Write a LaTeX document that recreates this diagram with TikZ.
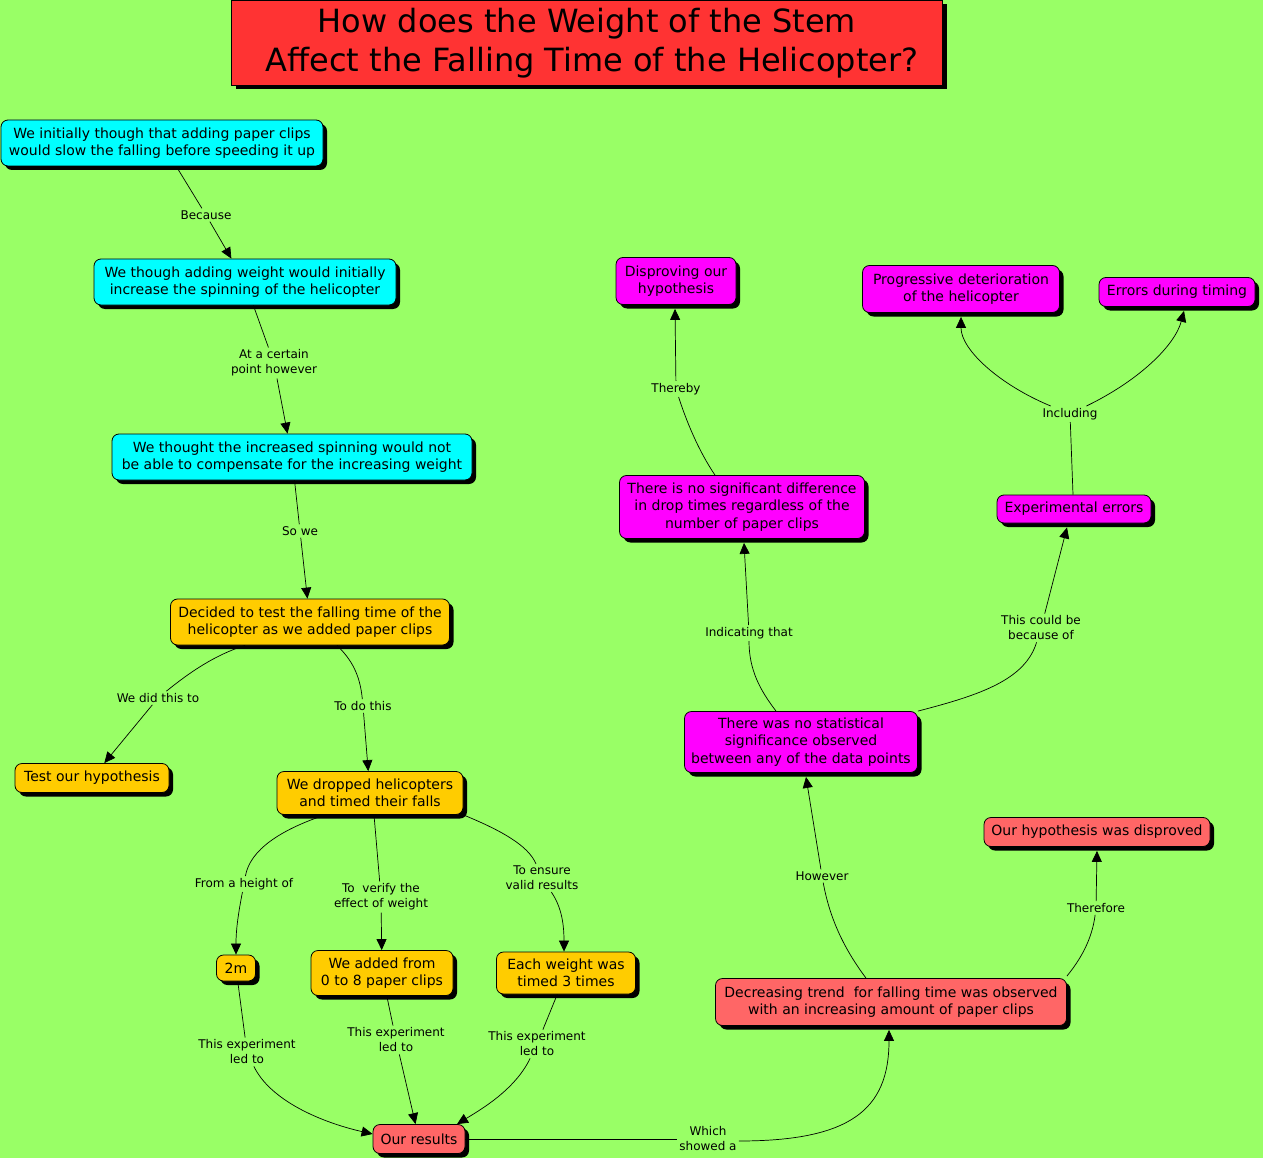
\documentclass[tikz,border=0pt]{standalone}
\usepackage{fontspec}
\setmainfont{DejaVu Sans}
\usetikzlibrary{shadows,arrows.meta}
\definecolor{bg}{HTML}{99FF66}
\definecolor{cy}{HTML}{00FFFF}
\definecolor{org}{HTML}{FFCC00}
\definecolor{sal}{HTML}{FF6666}
\definecolor{mag}{HTML}{FF00FF}
\definecolor{ttl}{HTML}{FF3333}
\begin{document}
\begin{tikzpicture}[x=1pt,y=-1pt,
  hardshadow/.style={drop shadow={shadow xshift=4pt,shadow yshift=-4pt,fill=black,opacity=1}},
  box/.style={draw=black,line width=0.8pt,rounded corners=7pt,align=center,inner sep=2pt,
    font=\fontsize{14}{17.5}\selectfont,hardshadow},
  cbox/.style={box,fill=cy},
  obox/.style={box,fill=org},
  sbox/.style={box,fill=sal},
  mbox/.style={box,fill=mag},
  lab/.style={font=\fontsize{12}{15}\selectfont,align=center,inner sep=2pt},
  conn/.style={line width=0.7pt},
  arr/.style={conn,-{Triangle[length=11pt,width=10pt]}}]
\fill[bg] (0,0) rectangle (1263,1158);
\useasboundingbox (0,0) rectangle (1263,1158);

% title
\node[draw=black,fill=ttl,line width=0.8pt,minimum width=711pt,minimum height=85pt,
  font=\fontsize{32}{39}\selectfont,align=center,hardshadow] (title) at (587,43)
  {How does the Weight of the Stem\\\ Affect the Falling Time of the Helicopter?};

% nodes
\node[cbox,minimum width=322pt,minimum height=46pt] (n1) at (162,143) {We initially though that adding paper clips\\would slow the falling before speeding it up};
\node[cbox,minimum width=302pt,minimum height=46pt] (n2) at (245,282) {We though adding weight would initially\\increase the spinning of the helicopter};
\node[cbox,minimum width=360pt,minimum height=46pt] (n3) at (292,457) {We thought the increased spinning would not\\be able to compensate for the increasing weight};
\node[obox,minimum width=279pt,minimum height=46pt] (n4) at (310,622) {Decided to test the falling time of the\\helicopter as we added paper clips};
\node[obox,minimum width=154pt,minimum height=29pt] (n5) at (92,778) {Test our hypothesis};
\node[obox,minimum width=186pt,minimum height=43pt] (n6) at (370,793) {We dropped helicopters\\and timed their falls};
\node[obox,minimum width=39pt,minimum height=26pt] (n7) at (236,968) {2m};
\node[obox,minimum width=142pt,minimum height=45pt] (n8) at (382,973) {We added from\\0 to 8 paper clips};
\node[obox,minimum width=139pt,minimum height=42pt] (n9) at (566,973) {Each weight was\\timed 3 times};
\node[sbox,minimum width=92pt,minimum height=29pt] (n10) at (419,1139) {Our results};
\node[sbox,minimum width=351pt,minimum height=47pt] (n11) at (891,1002) {Decreasing trend\ \ for falling time was observed\\with an increasing amount of paper clips};
\node[sbox,minimum width=226pt,minimum height=29pt] (n12) at (1097,832) {Our hypothesis was disproved};
\node[mbox,minimum width=233pt,minimum height=61pt] (n13) at (801,742) {There was no statistical\\significance observed\\between any of the data points};
\node[mbox,minimum width=245pt,minimum height=63pt] (n14) at (742,507) {There is no significant difference\\in drop times regardless of the\\number of paper clips};
\node[mbox,minimum width=120pt,minimum height=47pt] (n15) at (676,281) {Disproving our\\hypothesis};
\node[mbox,minimum width=154pt,minimum height=28pt] (n16) at (1074,509) {Experimental errors};
\node[mbox,minimum width=197pt,minimum height=47pt] (n17) at (961,289) {Progressive deterioration\\of the helicopter};
\node[mbox,minimum width=156pt,minimum height=29pt] (n18) at (1177,292) {Errors during timing};

% labels
\node[lab] (L1) at (206,215) {Because};
\node[lab] (L2) at (274,363) {At a certain\\point however};
\node[lab] (L3) at (300,531) {So we};
\node[lab] (L4) at (158,698) {We did this to};
\node[lab] (L5) at (363,706) {To do this};
\node[lab] (L6) at (244,884) {From a height of};
\node[lab] (L7) at (381,897) {To\ \ verify the\\effect of weight};
\node[lab] (L8) at (542,878) {To ensure\\valid results};
\node[lab] (L9) at (247,1052) {This experiment\\led to};
\node[lab] (L10) at (396,1040) {This experiment\\led to};
\node[lab] (L11) at (537,1044) {This experiment\\led to};
\node[lab] (L12) at (708,1139) {Which\\showed a};
\node[lab] (L13) at (822,876) {However};
\node[lab] (L14) at (1096,908) {Therefore};
\node[lab] (L15) at (749,633) {Indicating that};
\node[lab] (L16) at (1041,628) {This could be\\because of};
\node[lab] (L17) at (676,389) {Thereby};
\node[lab] (L18) at (1070,414) {Including};

% connectors
\draw[conn] (n1) -- (L1);
\draw[arr] (L1) -- (n2);
\draw[conn] (n2) -- (L2);
\draw[arr] (L2) -- (n3);
\draw[conn] (n3) -- (L3);
\draw[arr] (L3) -- (n4);

\draw[conn] ([xshift=-65pt]n4.south) .. controls (215,655) and (190,672) .. (L4);
\draw[arr] (L4) -- (n5);
\draw[conn] ([xshift=27pt]n4.south) .. controls (352,660) and (360,675) .. (L5);
\draw[arr] (L5) -- (n6);

\draw[conn] ([xshift=-45pt]n6.south) .. controls (280,830) and (250,850) .. (L6);
\draw[arr] (L6) .. controls (238,915) and (236,930) .. (n7.north);
\draw[conn] ([xshift=4pt]n6.south) -- (L7);
\draw[arr] (L7) -- (n8);
\draw[conn] (n6.south east) .. controls (500,830) and (528,845) .. (L8);
\draw[arr] (L8) .. controls (560,905) and (564,920) .. ([xshift=-2pt]n9.north);

\draw[conn] (n7) -- (L9);
\draw[arr] (L9) .. controls (270,1100) and (320,1122) .. ([yshift=5pt]n10.west);
\draw[conn] (n8) -- (L10);
\draw[arr] (L10) -- (n10);
\draw[conn] (n9) -- (L11);
\draw[arr] (L11) .. controls (515,1090) and (480,1110) .. ([xshift=38pt]n10.north);

\draw[conn] (n10) -- (L12);
\draw[arr] ([yshift=-2pt]L12.east) .. controls (850,1141) and (889,1110) .. ([xshift=-2pt,yshift=-4pt]n11.south);

\draw[conn] ([xshift=-25pt]n11.north) .. controls (845,950) and (830,920) .. (L13);
\draw[arr] (L13) -- ([xshift=5pt,yshift=-4pt]n13.south);
\draw[conn] ([yshift=2pt]n11.north east) .. controls (1080,960) and (1092,940) .. (L14);
\draw[arr] (L14) -- ([yshift=-4pt]n12.south);

\draw[conn] ([xshift=-25pt]n13.north) .. controls (760,690) and (749,670) .. (L15);
\draw[arr] (L15) -- ([xshift=2pt,yshift=-4pt]n14.south);
\draw[conn] (n13.north east) .. controls (980,695) and (1025,680) .. (L16);
\draw[arr] (L16) -- ([xshift=-7pt,yshift=-4pt]n16.south);

\draw[conn] ([xshift=-27pt]n14.north) .. controls (698,450) and (686,420) .. (L17);
\draw[arr] (L17) -- ([xshift=-1pt,yshift=-4pt]n15.south);

\draw[conn] ([xshift=-1pt]n16.north) -- (L18);
\draw[arr] (L18) .. controls (1000,385) and (961,350) .. ([yshift=-4pt]n17.south);
\draw[arr] (L18) .. controls (1140,380) and (1175,345) .. ([xshift=7pt,yshift=-4pt]n18.south);
\end{tikzpicture}
\end{document}
